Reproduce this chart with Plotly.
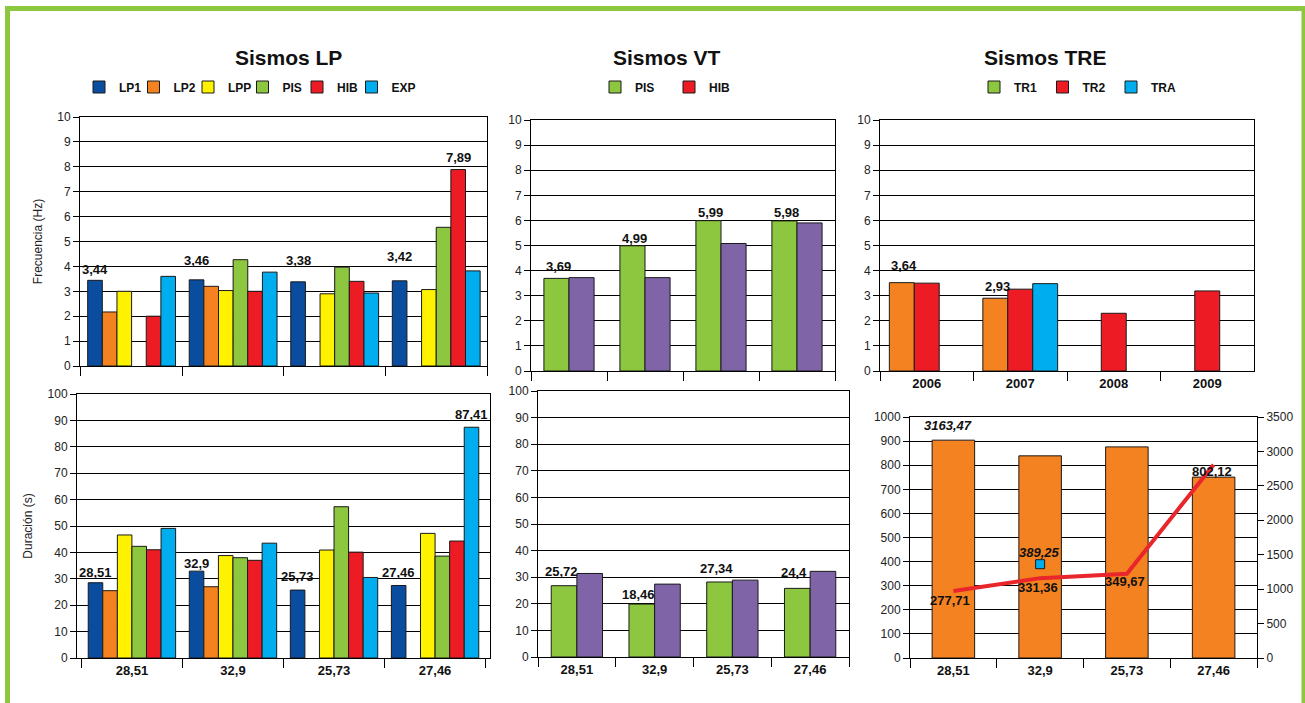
import plotly.graph_objects as go

W, H = 1305, 703


def fx(px):
    return px / W


def fy(py):
    return 1 - py / H


FONT = "Liberation Sans, Arial, sans-serif"

# ------------------------------------------------------------------ data
dur_cats = ["28,51", "32,9", "25,73", "27,46"]
tre_years = ["2006", "2007", "2008", "2009"]

lp_names = ["LP1", "LP2", "LPP", "PIS", "HIB", "EXP"]

# Sismos LP - frecuencia (Hz)
lp1_freq = [3.44, 3.46, 3.38, 3.42]
lp2_freq = [2.17, 3.20, None, None]
lpp_freq = [3.00, 3.03, 2.90, 3.07]
pis_freq_lp = [None, 4.27, 3.97, 5.57]
hib_freq_lp = [2.00, 3.00, 3.40, 7.89]
exp_freq = [3.60, 3.77, 2.93, 3.82]

# Sismos LP - duracion (s)
lp1_dur = [28.51, 32.9, 25.73, 27.46]
lp2_dur = [25.5, 27.0, None, None]
lpp_dur = [46.6, 38.8, 40.9, 47.2]
pis_dur_lp = [42.3, 38.0, 57.3, 38.6]
hib_dur_lp = [41.0, 37.0, 40.1, 44.3]
exp_dur = [49.1, 43.5, 30.5, 87.41]

# Sismos VT
vt_names = ["PIS", "HIB"]
vt_pis_freq = [3.69, 4.99, 5.99, 5.98]
vt_hib_freq = [3.72, 3.72, 5.08, 5.90]
vt_pis_dur = [26.8, 19.9, 28.2, 25.8]
vt_hib_dur = [31.4, 27.4, 28.9, 32.2]
vt_dur_labels = ["25,72", "18,46", "27,34", "24,4"]

# Sismos TRE
tre_names = ["TR1", "TR2", "TRA"]
tr1_freq = [3.52, 2.90, None, None]
tr2_freq = [3.50, 3.26, 2.30, 3.19]
tra_freq = [None, 3.48, None, None]
tre_freq_labels = ["3,64", "2,93"]

tre_total = [3163.47, 2936, 3066, 2627]          # right axis
tre_line = [277.71, 331.36, 349.67, 802.12]       # left axis
tre_tra_point = [None, 389.25, None, None]        # left axis

# ------------------------------------------------------------------ style
C_LP1 = "#0A4C9E"
C_LP2 = "#F58220"
C_LPP = "#FFF200"
C_PIS = "#8DC63F"
C_HIB = "#ED1C24"
C_EXP = "#00AEEF"
C_PUR = "#8064A8"
C_FRAME = "#8DC63F"
EDGE = "#1a1a1a"

lp_colors = [C_LP1, C_LP2, C_LPP, C_PIS, C_HIB, C_EXP]

fig = go.Figure()


def add_bars(series, names, colors, cats, xa, ya, gfrac):
    n = len(series)
    w = gfrac / n
    centers = []
    for i, (vals, nm, col) in enumerate(zip(series, names, colors)):
        off = -gfrac / 2 + i * w
        fig.add_trace(go.Bar(
            x=cats, y=vals, name=nm, width=w, offset=off,
            marker=dict(color=col, line=dict(color=EDGE, width=1)),
            xaxis=xa, yaxis=ya, showlegend=False, hoverinfo="skip"))
        centers.append(off + w / 2)
    return centers


# Sismos LP
lpf = add_bars([lp1_freq, lp2_freq, lpp_freq, pis_freq_lp, hib_freq_lp, exp_freq],
               lp_names, lp_colors, dur_cats, "x", "y", 0.865)
lpd = add_bars([lp1_dur, lp2_dur, lpp_dur, pis_dur_lp, hib_dur_lp, exp_dur],
               lp_names, lp_colors, dur_cats, "x4", "y4", 0.865)
# Sismos VT
vtf = add_bars([vt_pis_freq, vt_hib_freq], vt_names, [C_PIS, C_PUR], dur_cats, "x2", "y2", 0.66)
vtd = add_bars([vt_pis_dur, vt_hib_dur], vt_names, [C_PIS, C_PUR], dur_cats, "x5", "y5", 0.66)
# Sismos TRE
tref = add_bars([tr1_freq, tr2_freq, tra_freq], tre_names, [C_LP2, C_HIB, C_EXP],
                tre_years, "x3", "y3", 0.8)
fig.add_trace(go.Bar(x=dur_cats, y=tre_total, width=0.49, offset=-0.245,
                     marker=dict(color=C_LP2, line=dict(color=EDGE, width=1)),
                     xaxis="x6", yaxis="y6", showlegend=False, hoverinfo="skip"))
fig.add_trace(go.Scatter(x=dur_cats, y=tre_line, mode="lines",
                         line=dict(color="#E8262B", width=4),
                         xaxis="x6", yaxis="y7", showlegend=False, hoverinfo="skip"))
fig.add_trace(go.Scatter(x=dur_cats, y=tre_tra_point, mode="markers",
                         marker=dict(symbol="square", size=9, color=C_EXP,
                                     line=dict(color=EDGE, width=1)),
                         xaxis="x6", yaxis="y7", showlegend=False, hoverinfo="skip"))


# legend entries (as drawn in the original figure)
def legend_entry(name, color, legend, edge=EDGE):
    fig.add_trace(go.Scatter(
        x=[None], y=[None], mode="markers", name=name, legend=legend,
        marker=dict(symbol="square", size=12, color=color,
                    line=dict(color=edge, width=1 if edge != "rgba(0,0,0,0)" else 0)),
        xaxis="x", yaxis="y", showlegend=True, hoverinfo="skip"))


for nm, col in zip(lp_names, lp_colors):
    legend_entry(nm, col, "legend")
# invisible spacer so the last legend label is not clipped
legend_entry(" ", "rgba(0,0,0,0)", "legend", edge="rgba(0,0,0,0)")
for nm, col in zip(vt_names, [C_PIS, C_HIB]):
    legend_entry(nm, col, "legend2")
for nm, col in zip(tre_names, [C_PIS, C_HIB, C_EXP]):
    legend_entry(nm, col, "legend3")
legend_entry(" ", "rgba(0,0,0,0)", "legend3", edge="rgba(0,0,0,0)")

# ------------------------------------------------------------------ axes
TICKFONT = dict(family=FONT, size=12, color="#222")
XLABFONT = dict(family=FONT, size=13, color="#111", weight="bold")


def xax(px0, px1, anchor, labels):
    return dict(domain=[fx(px0), fx(px1)], anchor=anchor, type="category",
                tickson="boundaries", ticks="outside", ticklen=9, tickcolor="black",
                showline=True, linecolor="black", linewidth=1, mirror=True,
                showgrid=False, zeroline=False, showticklabels=labels,
                tickfont=XLABFONT, fixedrange=True)


def yax(py0, py1, anchor, rng, dtick, title=None):
    d = dict(domain=[fy(py1), fy(py0)], anchor=anchor, range=rng, dtick=dtick,
             ticks="outside", ticklen=6, tickcolor="black",
             showline=True, linecolor="black", linewidth=1, mirror=True,
             showgrid=True, gridcolor="black", gridwidth=1, zeroline=False,
             tickfont=TICKFONT, fixedrange=True)
    if title:
        d["title"] = dict(text=title, font=dict(family=FONT, size=12, color="#222"), standoff=12)
    return d


fig.update_layout(
    xaxis=xax(80, 487, "y", False),
    yaxis=yax(117, 366, "x", [0, 10], 1, "Frecuencia (Hz)"),
    xaxis2=xax(531, 835, "y2", False),
    yaxis2=yax(120, 371, "x2", [0, 10], 1),
    xaxis3=xax(880, 1254, "y3", True),
    yaxis3=yax(120, 371, "x3", [0, 10], 1),
    xaxis4=xax(77, 490, "y4", True),
    yaxis4=yax(394, 658, "x4", [0, 100], 10, "Duración (s)"),
    xaxis5=xax(538, 849, "y5", True),
    yaxis5=yax(391, 657, "x5", [0, 100], 10),
    xaxis6=xax(910, 1257, "y6", True),
    yaxis6=dict(domain=[fy(658), fy(417)], anchor="x6", side="right", range=[0, 3500],
                dtick=500, ticks="outside", ticklen=6, tickcolor="black",
                showline=True, linecolor="black", linewidth=1, showgrid=False,
                zeroline=False, tickfont=TICKFONT, fixedrange=True),
    yaxis7=dict(overlaying="y6", anchor="x6", side="left", range=[0, 1000], dtick=100,
                ticks="outside", ticklen=6, tickcolor="black",
                showline=True, linecolor="black", linewidth=1, showgrid=True,
                gridcolor="black", gridwidth=1, zeroline=False, tickfont=TICKFONT,
                fixedrange=True),
)

LEGFONT = dict(family=FONT, size=12, color="#111", weight="bold")
LEG_COMMON = dict(orientation="h", yanchor="middle", xanchor="left", entrywidthmode="pixels",
                  font=LEGFONT, bgcolor="rgba(0,0,0,0)", itemclick=False,
                  itemdoubleclick=False)
fig.update_layout(
    legend=dict(x=fx(79), y=fy(87), entrywidth=9.5, **LEG_COMMON),
    legend2=dict(x=fx(595), y=fy(87), entrywidth=29, **LEG_COMMON),
    legend3=dict(x=fx(974), y=fy(87), entrywidth=23.5, **LEG_COMMON),
)

# ------------------------------------------------------------------ annotations
ann = []
LABFONT = dict(family=FONT, size=13, color="#111", weight="bold")


def label(xa, ya, xpos, yval, text, yshift, xshift=0, italic=False):
    f = dict(LABFONT)
    if italic:
        f["style"] = "italic"
    ann.append(dict(xref=xa, yref=ya, x=xpos, y=yval, text=text, showarrow=False,
                    yanchor="middle", xanchor="center", yshift=yshift, xshift=xshift,
                    font=f))


# LP frequency labels on LP1 bars, plus the HIB maximum
lp_freq_shift = [11, 19, 21, 24]
for i, v in enumerate(lp1_freq):
    label("x", "y", i + lpf[0], v, f"{v:.2f}".replace(".", ","), lp_freq_shift[i])
label("x", "y", 3 + lpf[4], hib_freq_lp[3], "7,89", 12)

# LP duration labels
lp_dur_shift = [10, 8, 14, 13]
for i, v in enumerate(lp1_dur):
    label("x4", "y4", i + lpd[0], v, dur_cats[i], lp_dur_shift[i])
label("x4", "y4", 3 + lpd[5], exp_dur[3], "87,41", 13)

# VT labels
vt_freq_shift = [12, 7, 8, 8]
for i, v in enumerate(vt_pis_freq):
    label("x2", "y2", i + vtf[0], v, f"{v:.2f}".replace(".", ","), vt_freq_shift[i], 2)
vt_dur_shift = [14, 10, 13, 16]
for i, v in enumerate(vt_pis_dur):
    label("x5", "y5", i + vtd[0], v, vt_dur_labels[i], vt_dur_shift[i], -3)

# TRE labels
tre_shift = [17, 12]
for i, t in enumerate(tre_freq_labels):
    label("x3", "y3", i + tref[0], tr1_freq[i], t, tre_shift[i], 2)

label("x6", "y6", 0, tre_total[0], "3163,47", 15, -5, italic=True)
label("x6", "y7", 1, tre_tra_point[1], "389,25", 12, -1, italic=True)
line_shift = [-9, -9, -8, -7]
for i, v in enumerate(tre_line):
    label("x6", "y7", i, v, f"{v:.2f}".replace(".", ","), line_shift[i], -3 if i == 0 else -2)

# titles
for t, xc in [("Sismos LP", 288), ("Sismos VT", 667), ("Sismos TRE", 1045)]:
    ann.append(dict(xref="paper", yref="paper", x=fx(xc), y=fy(57), text=t,
                    showarrow=False, xanchor="center", yanchor="middle",
                    font=dict(family=FONT, size=21, color="#111", weight="bold")))

fig.update_layout(annotations=ann)

# green frame around the figure
fig.add_shape(type="rect", xref="paper", yref="paper",
              x0=fx(7.5), x1=fx(1304), y0=fy(8.5), y1=fy(730),
              line=dict(color=C_FRAME, width=5), fillcolor="rgba(0,0,0,0)", layer="above")

fig.update_layout(
    width=W, height=H, template="none",
    margin=dict(l=0, r=0, t=0, b=0, pad=0),
    paper_bgcolor="white", plot_bgcolor="white",
    font=dict(family=FONT, size=12, color="#222"),
    barmode="group", hovermode=False,
)

fig.write_html("out.html", config={"displayModeBar": False},
               post_script="document.body.style.margin='0';")
